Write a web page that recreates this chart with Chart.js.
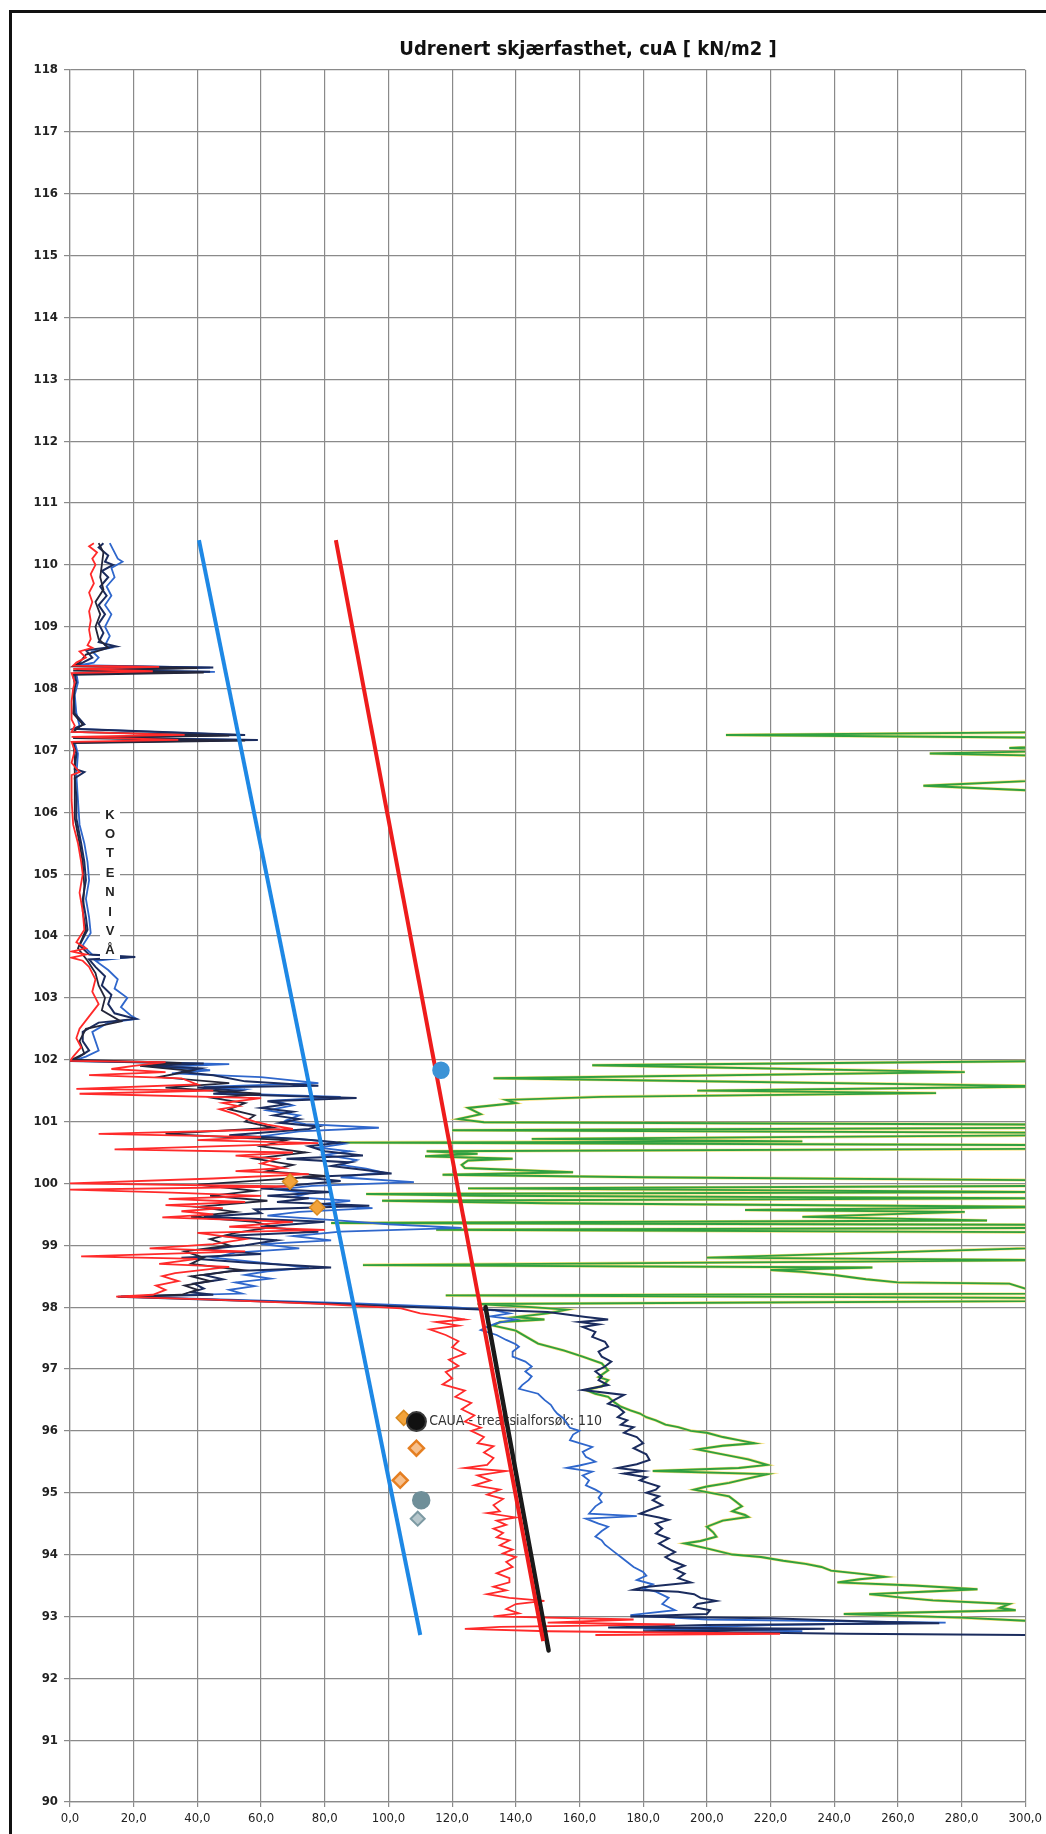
<!DOCTYPE html>
<html><head><meta charset="utf-8">
<script src="https://cdn.jsdelivr.net/npm/chart.js@4.4.0/dist/chart.umd.min.js"></script>
<style>
html,body{margin:0;padding:0;background:#fff;}
#wrap{position:relative;width:1046px;height:1834px;overflow:hidden;background:#fff;}
#frame{position:absolute;left:9px;top:10px;width:1100px;height:1900px;border-left:3px solid #111;border-top:3px solid #111;}
canvas{position:absolute;left:0;top:0;}
</style></head><body>
<div id="wrap"><div id="frame"></div><canvas id="c" width="1046" height="1834"></canvas></div>
<script>
// ---------- DATA (elevation [m], cuA [kN/m2]) ----------
const titleText = 'Udrenert skjærfasthet, cuA [ kN/m2 ]';
const xTickValues = [0,20,40,60,80,100,120,140,160,180,200,220,240,260,280,300];
const xTickLabels = ['0,0','20,0','40,0','60,0','80,0','100,0','120,0','140,0','160,0','180,0','200,0','220,0','240,0','260,0','280,0','300,0'];
const yTickValues = [90,91,92,93,94,95,96,97,98,99,100,101,102,103,104,105,106,107,108,109,110,111,112,113,114,115,116,117,118];
const sideLabel = ['K','O','T','E','N','I','V','Å'];
const markerLabel = 'CAUA - treaksialforsøk: 110';

const redCurve = [
[110.35,7.5],[110.3,6],[110.2,8.5],[110.1,7],[110.0,8],[109.85,6.5],[109.7,7.5],[109.55,6],[109.4,7],[109.25,6],[109.1,6.5],[108.95,6],[108.8,6.5],[108.7,5.5],[108.66,7],[108.6,3],[108.5,5],[108.42,2],[108.37,1],[108.35,28],[108.32,1],[108.28,26],[108.25,0.5],[108.1,1.5],[108.0,1],[107.8,0.5],[107.5,0.5],[107.4,1.5],[107.3,0.5],[107.25,36],[107.22,0.5],[107.17,34],[107.14,0.5],[107.0,1.5],[106.8,0.5],[106.65,3],[106.6,0.5],[106.2,0.5],[105.8,1],[105.5,2.5],[105.2,3.5],[105.0,4],[104.7,3],[104.4,4],[104.1,4.5],[103.9,2],[103.8,5],[103.75,0.5],[103.7,5],[103.65,0.5],[103.6,4],[103.5,6],[103.3,8],[103.1,7],[102.9,9],[102.7,6],[102.5,3],[102.35,2],[102.2,3.5],[102.05,1],[101.98,0],
[101.96,30],[101.9,20],[101.85,13],[101.8,30],[101.75,6],[101.7,35],[101.6,40],[101.53,2],[101.5,45],[101.45,3],[101.38,60],[101.3,48],[101.25,53],[101.2,47],[101.12,52],[101.05,55],[101.0,58],[100.95,62],[100.88,70],[100.8,9],[100.75,60],[100.7,40],[100.65,78],[100.55,14],[100.5,70],[100.45,52],[100.4,65],[100.32,60],[100.25,67],[100.2,52],[100.15,75],[100.08,45],[100.0,0],[99.95,70],[99.9,0],[99.85,32],[99.8,60],[99.75,31],[99.7,55],[99.65,30],[99.6,48],[99.55,35],[99.5,45],[99.45,29],[99.38,70],[99.3,50],[99.25,80],[99.2,40],[99.1,55],[99.02,45],[98.95,25],[98.9,55],[98.82,3.5],[98.78,40],[98.7,28],[98.65,50],[98.55,33],[98.5,29],[98.42,34],[98.35,27],[98.28,30],[98.2,26],[98.17,14.5],[98.12,45],[98.05,80],[97.98,104],[97.9,110],[97.85,118],[97.8,124],[97.76,115],[97.7,122],[97.64,113],[97.55,118],[97.45,122],[97.35,120],[97.25,124],[97.15,119],[97.05,122],[96.95,118],[96.85,120],[96.75,117],[96.65,124],[96.55,121],[96.45,126],[96.35,123],[96.25,127],[96.15,124],[96.05,129],[96.0,126],[95.9,130],[95.8,128],[95.75,133],[95.65,130],[95.56,133],[95.45,131],[95.4,124],[95.35,137],[95.28,128],[95.2,132],[95.12,127],[95.05,135],[94.97,131],[94.9,136],[94.8,133],[94.7,135],[94.67,131],[94.6,140],[94.55,134],[94.48,137],[94.42,133],[94.35,136],[94.28,134],[94.23,138],[94.15,135],[94.08,139],[94.02,136],[93.96,140],[93.88,137],[93.8,139],[93.7,134],[93.62,138],[93.55,138],[93.48,133],[93.42,137],[93.36,131],[93.3,138],[93.25,149],[93.2,140],[93.12,137],[93.05,141],[93.0,133],[92.95,177],[92.9,150],[92.87,190],[92.83,135],[92.8,124],[92.76,150],[92.72,223],[92.7,165]
];

const navyCurve = [
[110.35,10.5],[110.28,9],[110.15,12],[110.05,11],[110.0,13.5],[109.9,10],[109.8,12],[109.65,9.5],[109.5,11.5],[109.35,9],[109.2,11],[109.05,9],[108.9,10.5],[108.75,9],[108.68,14.5],[108.62,5],[108.5,7],[108.42,4],[108.37,2],[108.34,45],[108.3,2],[108.27,44],[108.24,1.5],[108.1,2],[107.95,1],[107.6,1.5],[107.42,4.5],[107.35,1],[107.25,55],[107.21,1],[107.17,59],[107.13,1],[106.95,2],[106.7,1.5],[106.65,4.5],[106.55,1.5],[106.25,2],[105.9,2],[105.5,3.5],[105.2,4.5],[104.9,5],[104.6,4],[104.3,5],[104.1,5.5],[103.85,3],[103.7,6],[103.66,20.5],[103.62,6],[103.5,8],[103.35,11],[103.2,10],[103.05,13],[102.9,12],[102.75,14],[102.66,20.5],[102.6,9],[102.45,4],[102.3,4],[102.15,6],[102.05,3],[101.98,0.5],
[101.94,42],[101.9,25],[101.86,41],[101.8,35],[101.75,45],[101.65,55],[101.58,78],[101.55,40],[101.5,52.6],[101.45,45],[101.38,90],[101.33,62],[101.28,68],[101.22,60],[101.16,70],[101.1,64],[101.04,72],[100.98,66],[100.92,78],[100.88,75],[100.78,50],[100.72,72],[100.66,85],[100.6,75],[100.52,80],[100.45,92],[100.4,68],[100.34,88],[100.28,82],[100.22,92],[100.16,101],[100.1,73],[100.04,85],[99.98,72],[99.92,60],[99.86,82],[99.8,62],[99.76,75],[99.7,65],[99.64,94],[99.58,58],[99.52,60],[99.46,42],[99.38,80],[99.3,60],[99.22,78],[99.15,48],[99.08,65],[99.0,55],[98.93,42],[98.86,60],[98.8,35],[98.72,55],[98.64,82],[98.58,50],[98.52,42],[98.45,48],[98.38,39],[98.3,42],[98.24,38],[98.2,45],[98.17,15],[98.12,45],[98.06,80],[98.0,110],[97.96,129],[97.92,150],[97.88,156],[97.84,162],[97.8,169],[97.76,160],[97.72,166],[97.68,161],[97.6,165],[97.52,164],[97.44,168],[97.36,169],[97.28,166],[97.2,167],[97.12,170],[97.04,168],[96.96,165],[96.88,167],[96.82,166],[96.74,169],[96.66,161],[96.58,174],[96.5,171],[96.44,169],[96.39,172],[96.3,174],[96.22,172],[96.17,175],[96.1,173],[96.06,177],[95.97,174],[95.9,178],[95.85,179],[95.8,180],[95.72,177],[95.62,181],[95.53,182],[95.46,178],[95.4,172],[95.35,180],[95.31,174],[95.25,181],[95.2,179],[95.1,185],[95.05,184],[95.0,181],[94.94,185],[94.88,183],[94.8,186],[94.72,182],[94.66,179],[94.6,185],[94.56,188],[94.5,184],[94.42,186],[94.34,184],[94.26,188],[94.18,185],[94.12,187],[94.04,190],[93.96,187],[93.9,189],[93.82,193],[93.76,190],[93.69,193],[93.62,191],[93.55,195],[93.47,180],[93.43,177],[93.4,191],[93.36,196],[93.3,198],[93.25,203],[93.2,197],[93.15,196],[93.1,201],[93.04,200],[93.0,176],[92.97,220],[92.92,250],[92.89,273],[92.86,200],[92.82,169],[92.8,237],[92.76,180],[92.72,244],[92.7,300]
];

const blueCurve = [
[110.35,12.5],[110.25,13.5],[110.1,15],[110.05,16.5],[109.95,13],[109.8,14],[109.65,11.5],[109.5,13],[109.35,11],[109.2,13],[109.0,11],[108.85,12.5],[108.7,11],[108.66,13],[108.6,7],[108.5,9],[108.42,7.5],[108.38,3],[108.34,44],[108.3,3],[108.27,45.5],[108.24,2],[108.1,2.5],[107.9,1.5],[107.6,2],[107.4,3],[107.35,1.5],[107.25,52],[107.21,1.5],[107.17,57],[107.13,1.5],[106.95,2.5],[106.6,2],[106.2,2.5],[105.8,3],[105.5,4.5],[105.2,5.5],[104.9,6],[104.6,5],[104.3,6],[104.05,6.5],[103.85,4],[103.7,7],[103.66,19],[103.6,8],[103.45,12],[103.3,15],[103.15,14],[103.0,18],[102.85,16],[102.72,19],[102.66,21],[102.6,12],[102.45,7],[102.3,8],[102.15,9],[102.05,5],[101.98,1],
[101.93,50],[101.88,28],[101.83,44],[101.78,32],[101.72,60],[101.62,78],[101.56,42],[101.52,55],[101.46,48],[101.4,85],[101.34,64],[101.26,70],[101.18,62],[101.1,72],[101.02,68],[100.96,74],[100.9,97],[100.84,72],[100.76,60],[100.7,76],[100.64,86],[100.58,78],[100.52,88],[100.46,80],[100.38,90],[100.3,85],[100.24,93],[100.18,98],[100.1,85],[100.02,108],[99.96,76],[99.9,65],[99.84,75],[99.78,70],[99.72,88],[99.66,78],[99.6,95],[99.54,72],[99.48,62],[99.4,85],[99.34,100],[99.28,123],[99.22,85],[99.15,70],[99.08,82],[99.02,60],[98.95,72],[98.88,52],[98.8,45],[98.72,60],[98.64,75],[98.58,62],[98.52,55],[98.46,63],[98.4,52],[98.34,58],[98.28,50],[98.22,54],[98.17,16],[98.12,50],[98.06,90],[98.0,120],[97.95,133],[97.9,138],[97.85,132],[97.8,140],[97.74,134],[97.68,131],[97.63,129],[97.55,134],[97.47,137],[97.4,140],[97.36,141],[97.28,139],[97.2,139],[97.12,143],[97.04,145],[96.96,143],[96.88,145],[96.82,144],[96.74,142],[96.68,141],[96.6,147],[96.5,149],[96.42,151],[96.34,152],[96.28,153],[96.2,155],[96.12,156],[96.05,157],[96.0,160],[95.94,158],[95.85,157],[95.8,160],[95.74,164],[95.66,161],[95.58,162],[95.5,165],[95.44,160],[95.4,156],[95.34,164],[95.28,161],[95.2,163],[95.12,162],[95.05,165],[94.99,167],[94.92,166],[94.85,167],[94.78,165],[94.72,164],[94.66,163],[94.62,178],[94.58,162],[94.5,166],[94.45,169],[94.38,167],[94.29,165],[94.23,167],[94.16,168],[94.12,169],[94.04,171],[93.96,173],[93.88,175],[93.8,177],[93.72,180],[93.66,181],[93.59,178],[93.52,183],[93.45,180],[93.4,184],[93.3,188],[93.2,186],[93.1,190],[93.02,176],[92.95,200],[92.9,275],[92.86,220],[92.8,180],[92.76,230]
];

const blackCurve = [
[110.35,9],[110.2,10.5],[110.0,10],[109.8,9.5],[109.6,10.5],[109.4,8],[109.2,9.5],[109.0,8],[108.8,9],[108.66,12],[108.55,5],[108.42,3],[108.36,1],[108.33,40],[108.29,1],[108.26,42],[108.22,1],[108.05,1.5],[107.6,1],[107.42,4],[107.3,1],[107.24,50],[107.2,1],[107.16,55],[107.12,1],[106.9,1.5],[106.3,1.5],[105.9,1.5],[105.5,3],[105.2,4],[104.8,4.5],[104.4,4],[104.1,5],[103.8,2.5],[103.6,5.5],[103.4,8],[103.2,9],[103.0,11],[102.8,10],[102.62,16],[102.5,5],[102.3,3],[102.1,4.5],[102.0,0.5],[101.95,35],[101.9,22],[101.82,38],[101.72,28],[101.62,50],[101.55,30],[101.45,60],[101.38,45],[101.3,55],[101.2,50],[101.1,58],[101.0,55],[100.9,64],[100.8,30],[100.7,68],[100.6,60],[100.5,74],[100.4,58],[100.3,70],[100.2,62],[100.12,80],[100.05,60],[99.98,40],[99.88,58],[99.8,44],[99.72,62],[99.62,40],[99.54,52],[99.46,38],[99.38,58],[99.3,64],[99.2,52],[99.1,44],[99.0,50],[98.9,36],[98.8,42],[98.7,38],[98.6,54],[98.5,38],[98.42,44],[98.35,36],[98.28,40],[98.2,35],[98.17,16]
];

const greenCurve = [
[107.3,320],[107.25,206],[107.2,320],[107.1,320],[107.04,295],[107.0,320],[106.95,270],[106.9,320],[106.55,320],[106.43,268],[106.31,320],[102.05,330],
[101.98,310],[101.91,164],[101.8,281],[101.7,133],[101.57,310],[101.5,197],[101.46,272],[101.4,167],[101.35,137],[101.3,140],[101.22,125],[101.12,129],[101.04,122],[100.99,130],[100.95,310],[100.9,310],[100.86,120],[100.82,310],[100.78,310],[100.72,145],[100.68,230],[100.66,84],[100.62,310],[100.56,310],[100.52,112],[100.48,128],[100.44,111.5],[100.4,139],[100.37,125],[100.3,123],[100.25,124],[100.18,158],[100.14,117],[100.1,180],[100.05,310],[99.96,310],[99.92,125],[99.86,310],[99.83,93],[99.8,130],[99.76,310],[99.72,98],[99.68,150],[99.62,310],[99.57,212],[99.54,281],[99.46,230],[99.4,288],[99.36,82],[99.33,310],[99.28,310],[99.25,115],[99.21,310],[98.98,320],[98.8,200],[98.76,310],[98.68,92],[98.64,252],[98.6,220],[98.57,230],[98.52,240],[98.45,250],[98.4,260],[98.38,295],[98.3,300],[98.22,310],[98.19,118],[98.15,300],[98.1,310],
[98.05,128],[98.0,145],[97.96,156],[97.9,150],[97.84,140],[97.8,149],[97.76,135],[97.7,133],[97.62,140],[97.5,144],[97.41,147],[97.3,155],[97.2,161],[97.09,167],[96.98,169],[96.87,166],[96.82,169],[96.72,167],[96.66,162],[96.6,165],[96.55,169],[96.46,171],[96.39,173],[96.33,176],[96.28,179],[96.22,181],[96.17,184],[96.1,187],[96.06,191],[96.0,195],[95.97,200],[95.9,205],[95.85,210],[95.8,215],[95.76,205],[95.7,197],[95.62,205],[95.54,213],[95.45,219],[95.4,210],[95.35,183],[95.3,219],[95.22,212],[95.16,207],[95.1,200],[95.05,196],[94.99,202],[94.94,207],[94.86,209],[94.78,211],[94.7,208],[94.64,212],[94.61,213],[94.55,205],[94.45,200],[94.36,202],[94.29,203],[94.22,198],[94.18,193],[94.1,200],[94.0,208],[93.96,217],[93.9,224],[93.85,231],[93.8,236],[93.74,239],[93.68,250],[93.64,256],[93.6,248],[93.55,241],[93.5,265],[93.44,285],[93.4,268],[93.36,251],[93.3,262],[93.26,271],[93.2,295],[93.14,292],[93.1,297],[93.04,243],[92.98,280],[92.93,300],[92.9,305]
];

const blueTrend = [[110.4,40.5],[92.7,110]];
const redTrend = [[110.4,83.5],[92.6,148.6]];
const blackTrend = [[98.0,130.5],[92.45,150.3]];

const blueCirclePts = [[101.83,116.5]];
const orangeDiamondPts = [[100.03,69.1],[99.61,77.6],[96.21,104.8]];
const orangeHatchPts = [[95.72,108.8],[95.2,103.7]];
const blackCirclePts = [[96.15,108.8]];
const tealCirclePts = [[94.88,110.3]];
const greyDiamondPts = [[94.58,109.2]];
const labelAnchor = [96.15, 112.8];

// ---------- CHART ----------
const pts = a => a.map(([e, c]) => ({x: c, y: e}));
const narrow = "'Liberation Sans Narrow','DejaVu Sans Condensed','Liberation Sans',sans-serif";

function lineDs(data, color, width, order, extra) {
  return Object.assign({type:'scatter', data: pts(data), showLine:true, borderColor: color, backgroundColor: color,
    borderWidth: width, pointRadius: 0, pointHoverRadius: 0, tension: 0, order: order}, extra || {});
}
function markDs(data, style, fill, border, radius, order, bw) {
  return {type:'scatter', data: pts(data), showLine:false, pointStyle: style, backgroundColor: fill,
    borderColor: border, borderWidth: bw || 1.5, pointRadius: radius, order: order};
}

const overlay = {
  id: 'overlay',
  beforeDatasetsDraw(chart) {
    const {ctx, scales:{x, y}} = chart;
    ctx.save();
    ctx.font = "14px 'Liberation Sans Narrow','DejaVu Sans Condensed',sans-serif";
    ctx.fillStyle = '#333';
    ctx.textBaseline = 'middle';
    ctx.textAlign = 'left';
    ctx.fillText(markerLabel, x.getPixelForValue(labelAnchor[1]), y.getPixelForValue(labelAnchor[0]));
    ctx.restore();
  },
  afterDatasetsDraw(chart) {
    const {ctx} = chart;
    ctx.save();
    ctx.fillStyle = '#fff';
    ctx.fillRect(100, 803, 20, 156);
    ctx.font = "bold 13px 'Liberation Sans','DejaVu Sans',sans-serif";
    ctx.fillStyle = '#222';
    ctx.textAlign = 'center';
    ctx.textBaseline = 'middle';
    sideLabel.forEach((ch, i) => ctx.fillText(ch, 110, 815 + i * 19.4));
    ctx.restore();
  },
  afterDraw(chart) {
    const {ctx} = chart;
    ctx.save();
    ctx.font = "bold 20px 'Liberation Sans Narrow','DejaVu Sans Condensed',sans-serif";
    ctx.fillStyle = '#111';
    ctx.textAlign = 'center';
    ctx.textBaseline = 'middle';
    ctx.fillText(titleText, 588, 50);
    ctx.restore();
  }
};

new Chart(document.getElementById('c'), {
  type: 'scatter',
  data: { datasets: [
    markDs(blackCirclePts, 'circle', '#111', '#3a3a3a', 9.5, 0, 2),
    markDs(orangeDiamondPts, 'rectRot', '#f2a33a', '#d98a20', 7.5, 0),
    markDs(orangeHatchPts, 'rectRot', '#f6c08e', '#e57f22', 7.5, 0, 2.5),
    markDs(blueCirclePts, 'circle', '#3c93d6', '#3c93d6', 8, 0),
    markDs(tealCirclePts, 'circle', '#6f8f99', '#6f8f99', 8.5, 0),
    markDs(greyDiamondPts, 'rectRot', '#b7c7cc', '#7d9aa3', 7, 0, 2),
    lineDs(redTrend, '#ee1c1c', 4, 1),
    lineDs(blackTrend, '#1a1a1a', 4.5, 2, {borderCapStyle:'round'}),
    lineDs(blueTrend, '#1e88e5', 4, 3),
    lineDs(redCurve, '#ff2a2a', 1.8, 4),
    lineDs(blackCurve, '#24263a', 1.8, 5),
    lineDs(navyCurve, '#1b2c5e', 2, 6),
    lineDs(blueCurve, '#2f67cc', 1.8, 7),
    lineDs(greenCurve, '#2fa040', 1.9, 8),
    lineDs(greenCurve, 'rgba(248,214,80,0.75)', 3, 9)
  ]},
  options: {
    responsive: false,
    animation: false,
    events: [],
    layout: { padding: { left: 0, right: 19, top: 70, bottom: 0 } },
    plugins: { legend: { display: false }, tooltip: { enabled: false }, title: { display: false } },
    scales: {
      x: {
        type: 'linear', min: 0, max: 300,
        afterFit: s => { s.height = 32; },
        afterBuildTicks: s => { s.ticks = xTickValues.map(v => ({value: v})); },
        ticks: { callback: v => xTickLabels[xTickValues.indexOf(v)] ?? '', color: '#222', font: { family: narrow, size: 13 }, maxRotation: 0, autoSkip: false, padding: 4 },
        grid: { color: '#8a8a8a', lineWidth: 1.2, tickLength: 5 },
        border: { color: '#8a8a8a', width: 1.2 }
      },
      y: {
        type: 'linear', min: 90, max: 118,
        afterFit: s => { s.width = 70; },
        afterBuildTicks: s => { s.ticks = yTickValues.map(v => ({value: v})); },
        ticks: { color: '#222', font: { family: narrow, size: 13, weight: 'bold' }, autoSkip: false, padding: 6 },
        grid: { color: '#8a8a8a', lineWidth: 1.2, tickLength: 6 },
        border: { color: '#8a8a8a', width: 1.2 }
      }
    }
  },
  plugins: [overlay]
});
</script>
</body></html>
